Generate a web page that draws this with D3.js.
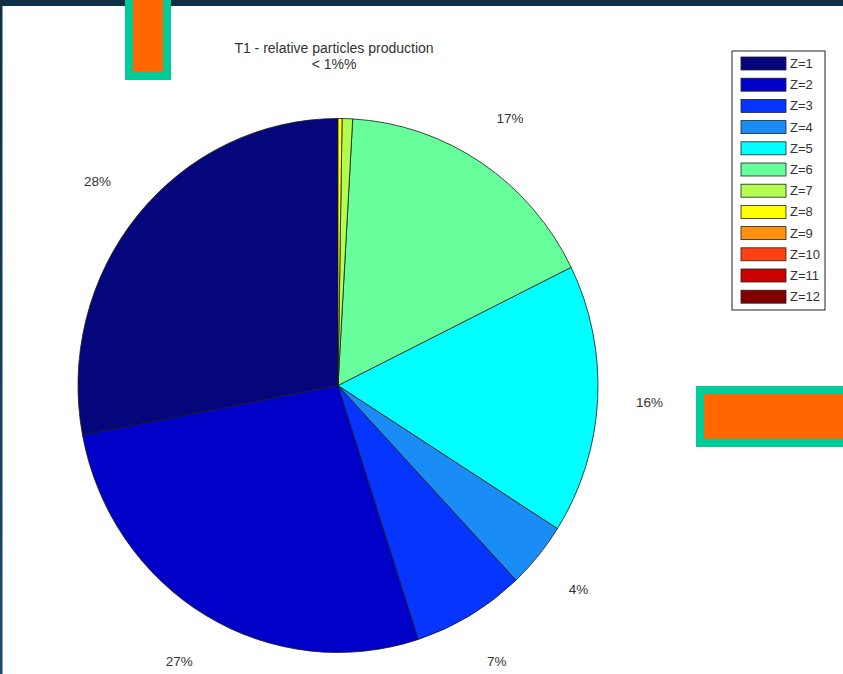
<!DOCTYPE html>
<html>
<head>
<meta charset="utf-8">
<script src="https://cdn.jsdelivr.net/npm/d3@7/dist/d3.min.js"></script>
<style>
  html, body { margin: 0; padding: 0; background: #ffffff; }
  svg { display: block; }
  text { font-family: "Liberation Sans", Arial, sans-serif; }
</style>
</head>
<body>
<svg id="chart" width="843" height="674"></svg>
<script>
// ---- data ----
const categories = ["Z=1","Z=2","Z=3","Z=4","Z=5","Z=6","Z=7","Z=8","Z=9","Z=10","Z=11","Z=12"];
const values = [28.0, 27.0, 7.0, 4.0, 16.3, 16.8, 0.65, 0.25, 0, 0, 0, 0];
const titleLines = ["T1 - relative particles production", "< 1%%"];

// ---- styles ----
const palette = ["#05067c","#0000c8","#0535ff","#1a8cf5","#00ffff","#66ff9c",
                 "#b2ff4f","#ffff00","#ff9010","#ff4010","#cc0000","#800000"];

const W = 843, H = 674;
const svg = d3.select("#chart");

// background frame
svg.append("rect").attr("x",0).attr("y",0).attr("width",W).attr("height",H).attr("fill","#ffffff");
const grad = svg.append("defs").append("linearGradient").attr("id","lb")
  .attr("x1",0).attr("y1",0).attr("x2",0).attr("y2",1);
grad.append("stop").attr("offset","0%").attr("stop-color","#0d3048");
grad.append("stop").attr("offset","100%").attr("stop-color","#1b4b6c");
svg.append("rect").attr("x",0).attr("y",0).attr("width",W).attr("height",6).attr("fill","#0d3048");
svg.append("rect").attr("x",0).attr("y",0).attr("width",2.5).attr("height",H).attr("fill","url(#lb)");

// pie
const cx = 338, cy = 385.5, R = 260, sy = 267/260;
const pie = d3.pie().sort(null).value(d => d).startAngle(0).endAngle(-2*Math.PI);
const arcs = pie(values);
const arc = d3.arc().innerRadius(0).outerRadius(R);
const labelArc = d3.arc().innerRadius(R*1.2).outerRadius(R*1.2);

const g = svg.append("g").attr("transform", `translate(${cx},${cy}) scale(1,${sy})`);
g.selectAll("path.slice").data(arcs.filter(d => d.value > 0)).enter().append("path")
  .attr("class","slice")
  .attr("d", arc)
  .attr("fill", d => palette[d.index])
  .attr("stroke", "#1a1a1a")
  .attr("stroke-width", 0.8)
  .attr("vector-effect","non-scaling-stroke");

// percent labels
const lg = svg.append("g").attr("transform", `translate(${cx},${cy})`);
lg.selectAll("text").data(arcs.filter(d => d.value >= 1)).enter().append("text")
  .attr("x", d => labelArc.centroid(d)[0])
  .attr("y", d => labelArc.centroid(d)[1]*sy)
  .attr("dy","0.35em")
  .attr("text-anchor","middle")
  .attr("font-size", 13.5)
  .attr("fill","#333")
  .text(d => Math.round(d.value) + "%");

// title
svg.selectAll("text.title").data(titleLines).enter().append("text")
  .attr("class","title")
  .attr("x", 334).attr("y", (d,i) => 53 + i*16)
  .attr("text-anchor","middle")
  .attr("font-size", 14)
  .attr("fill","#333")
  .text(d => d);

// legend
const legX = 732, legY = 51, legW = 93, legH = 259, pitch = 21.2;
svg.append("rect").attr("x",legX).attr("y",legY).attr("width",legW).attr("height",legH)
  .attr("fill","#fff").attr("stroke","#222").attr("stroke-width",1);
const li = svg.selectAll("g.li").data(categories).enter().append("g")
  .attr("class","li")
  .attr("transform",(d,i) => `translate(0,${57 + i*pitch})`);
li.append("rect").attr("x",741).attr("y",0).attr("width",45).attr("height",13)
  .attr("fill",(d,i) => palette[i]).attr("stroke","#222").attr("stroke-width",0.8);
li.append("text").attr("x",790).attr("y",6.5).attr("dy","0.35em")
  .attr("font-size",13).attr("fill","#333").text(d => d);

// orange decoration blocks
svg.append("rect").attr("x",125).attr("y",0).attr("width",46).attr("height",80).attr("fill","#00cc99");
svg.append("rect").attr("x",133).attr("y",0).attr("width",30).attr("height",72).attr("fill","#ff6600");
svg.append("rect").attr("x",696).attr("y",386).attr("width",147).attr("height",61).attr("fill","#00cc99");
svg.append("rect").attr("x",704).attr("y",394).attr("width",139).attr("height",45).attr("fill","#ff6600");
</script>
</body>
</html>
